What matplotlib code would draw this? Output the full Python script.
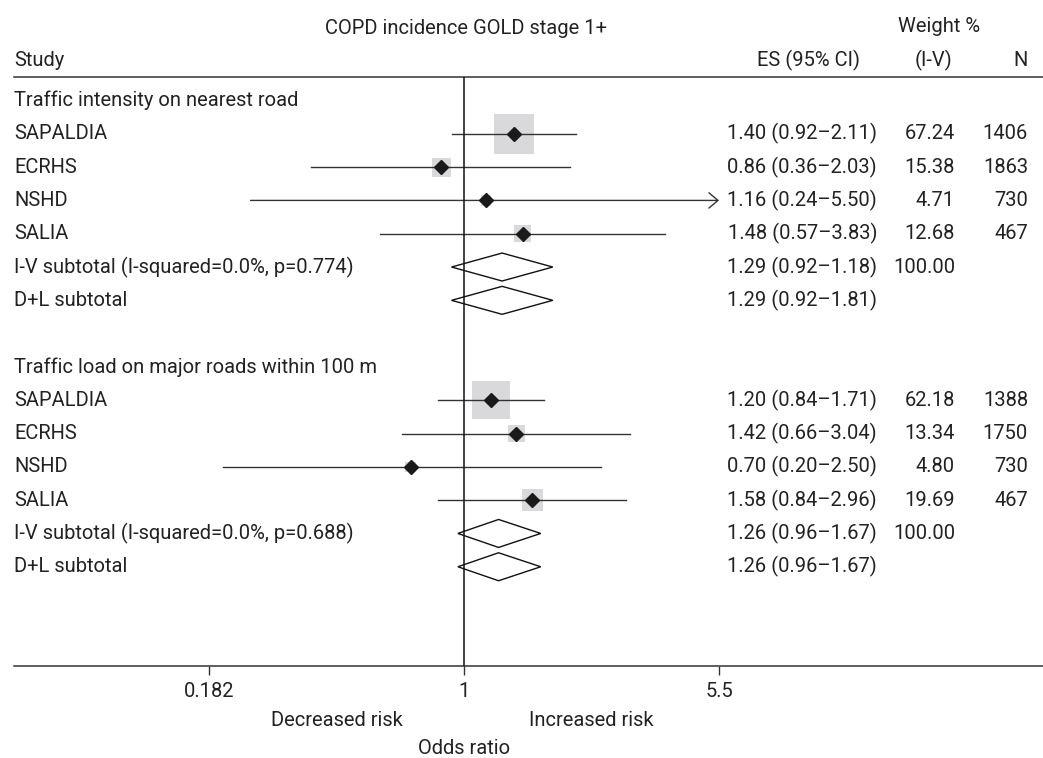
import numpy as np
import matplotlib
matplotlib.use("Agg")
import matplotlib.pyplot as plt
from matplotlib.ticker import NullLocator

plt.rcParams['font.family'] = ['Roboto', 'DejaVu Sans']

# ---- data ----
group_titles = ["Traffic intensity on nearest road",
                "Traffic load on major roads within 100 m"]
studies = ["SAPALDIA", "ECRHS", "NSHD", "SALIA"]

es_1 = [1.40, 0.86, 1.16, 1.48]
lo_1 = [0.92, 0.36, 0.24, 0.57]
hi_1 = [2.11, 2.03, 5.50, 3.83]
weight_1 = [67.24, 15.38, 4.71, 12.68]
n_1 = [1406, 1863, 730, 467]
sub_1 = (1.29, 0.92, 1.81)
sub_text_1 = ["1.29 (0.92–1.18)", "1.29 (0.92–1.81)"]
het_1 = "I-V subtotal (I-squared=0.0%, p=0.774)"

es_2 = [1.20, 1.42, 0.70, 1.58]
lo_2 = [0.84, 0.66, 0.20, 0.84]
hi_2 = [1.71, 3.04, 2.50, 2.96]
weight_2 = [62.18, 13.34, 4.80, 19.69]
n_2 = [1388, 1750, 730, 467]
sub_2 = (1.26, 0.96, 1.67)
sub_text_2 = ["1.26 (0.96–1.67)", "1.26 (0.96–1.67)"]
het_2 = "I-V subtotal (I-squared=0.0%, p=0.688)"

xticks = [0.182, 1, 5.5]
xtick_labels = ["0.182", "1", "5.5"]

# ---- layout ----
W, H = 1043, 758
txt = '#222222'
fs = 14.5
fig = plt.figure(figsize=(W / 100, H / 100), dpi=100)
ax = fig.add_axes([14 / W, 1 - 666 / H, (W - 14) / W, (666 - 76.7) / H])
ax.set_xscale('log')
ax.set_xlim(np.exp((14 - 464) / 149.6), np.exp((W - 464) / 149.6))
ax.set_ylim(16.98, -0.715)

for s in ['left', 'right']:
    ax.spines[s].set_visible(False)
for s in ['top', 'bottom']:
    ax.spines[s].set_color('#333333')
    ax.spines[s].set_linewidth(1.1)
ax.set_yticks([])
ax.set_xticks(xticks)
ax.set_xticklabels(xtick_labels)
ax.xaxis.set_minor_locator(NullLocator())
ax.tick_params(axis='x', length=6.5, width=1, color='#333333', pad=5,
               labelsize=fs, labelcolor=txt)

ax.axvline(1, color='#111111', lw=1.1, zorder=4)

xmax_plot = max(xticks)
col_es, col_w, col_n = (877 - 14) / 1029, (955 - 14) / 1029, (1028 - 14) / 1029
ytr = ax.get_yaxis_transform()


def row_text(y, label, es_txt=None, w_txt=None, n_txt=None):
    ax.text(0.0, y, label, transform=ytr, ha='left', va='center', fontsize=fs, color=txt)
    if es_txt:
        ax.text(col_es, y, es_txt, transform=ytr, ha='right', va='center', fontsize=fs, color=txt)
    if w_txt:
        ax.text(col_w, y, w_txt, transform=ytr, ha='right', va='center', fontsize=fs, color=txt)
    if n_txt:
        ax.text(col_n, y, n_txt, transform=ytr, ha='right', va='center', fontsize=fs, color=txt)


def draw_group(start, title, es, lo, hi, weight, n, sub, sub_text, het):
    row_text(start, title)
    for i, name in enumerate(studies):
        y = start + 1 + i
        ax.scatter([es[i]], [y], s=12.3 * weight[i], marker='s', color='#d9d9db',
                   edgecolors='none', zorder=2)
        if hi[i] >= xmax_plot:
            ax.annotate('', xy=(hi[i], y), xytext=(lo[i], y),
                        arrowprops=dict(arrowstyle='->,head_length=0.65,head_width=0.55',
                                        lw=1.0, color='#333333', shrinkA=0, shrinkB=0),
                        zorder=3)
        else:
            ax.plot([lo[i], hi[i]], [y, y], color='#333333', lw=1.0, zorder=3)
        ax.plot([es[i]], [y], marker='D', ms=7, color='#1a1a1a', zorder=5)
        row_text(y, name, f"{es[i]:.2f} ({lo[i]:.2f}–{hi[i]:.2f})",
                 f"{weight[i]:.2f}", str(n[i]))
    e, l, h = sub
    for k, lab in enumerate([het, "D+L subtotal"]):
        y = start + 5 + k
        ax.fill([l, e, h, e], [y, y - 0.42, y, y + 0.42], facecolor='none',
                edgecolor='#111111', lw=1.0, zorder=3)
        row_text(y, lab, sub_text[k], "100.00" if k == 0 else None)


draw_group(0, group_titles[0], es_1, lo_1, hi_1, weight_1, n_1, sub_1, sub_text_1, het_1)
draw_group(8, group_titles[1], es_2, lo_2, hi_2, weight_2, n_2, sub_2, sub_text_2, het_2)

# headers
def ftext(x, y, s, ha):
    fig.text(x / W, 1 - y / H, s, ha=ha, va='center', fontsize=fs, color=txt)

ftext(466, 28, "COPD incidence GOLD stage 1+", 'center')
ftext(939, 27, "Weight %", 'center')
ftext(14, 60, "Study", 'left')
ftext(860, 60, "ES (95% CI)", 'right')
ftext(933, 60, "(I-V)", 'center')
ftext(1028, 60, "N", 'right')

# axis annotations
xtr = ax.get_xaxis_transform()
ax.text(np.sqrt(xticks[0] * xticks[1]), -54 / 589.3, "Decreased risk", transform=xtr,
        ha='center', va='center', fontsize=fs, color=txt)
ax.text(np.sqrt(xticks[1] * xticks[2]), -54 / 589.3, "Increased risk", transform=xtr,
        ha='center', va='center', fontsize=fs, color=txt)
ax.text(1, -82 / 589.3, "Odds ratio", transform=xtr,
        ha='center', va='center', fontsize=fs, color=txt)

fig.savefig("out.png", dpi=100)
